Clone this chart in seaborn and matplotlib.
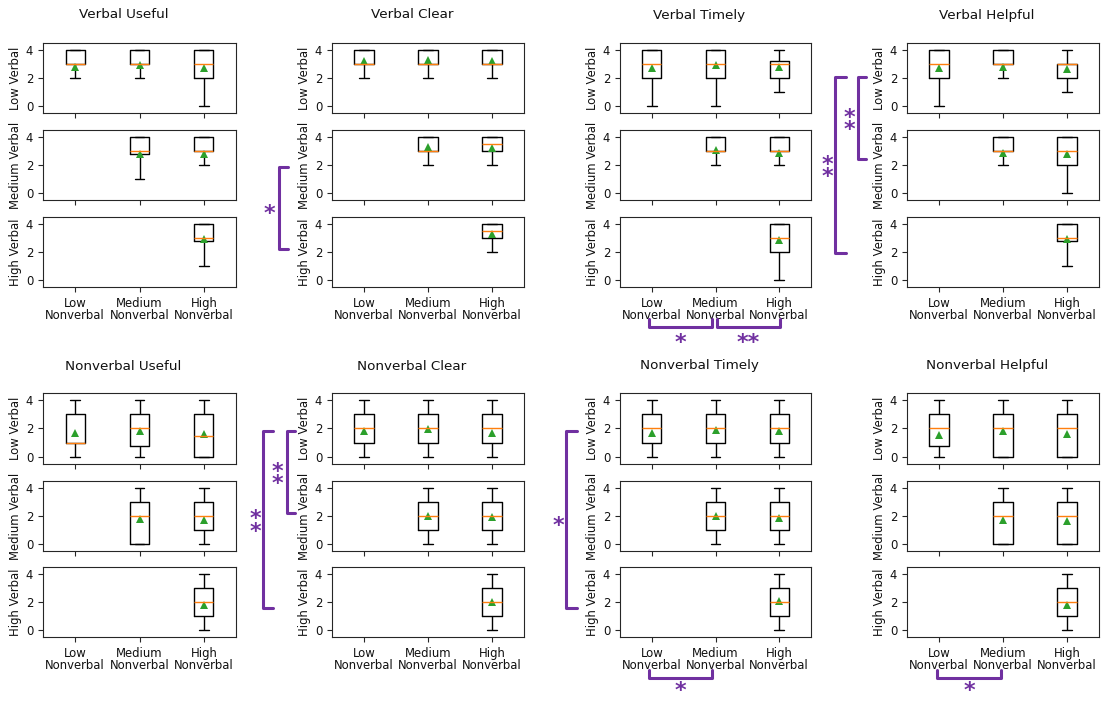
import matplotlib
matplotlib.use("Agg")
import matplotlib.pyplot as plt
from matplotlib.lines import Line2D
import pandas as pd
import seaborn as sns

# ---------------------------------------------------------------------------
# DATA  (five-number summaries: min, q1, median, q3, max; None = no group)
# ---------------------------------------------------------------------------
nonverbal_levels = ["Low\nNonverbal", "Medium\nNonverbal", "High\nNonverbal"]
verbal_levels = ["Low Verbal", "Medium Verbal", "High Verbal"]

verbal_useful_box = [
    [(2, 3, 3, 4, 4), (2, 3, 3, 4, 4), (0, 2, 3, 4, 4)],
    [None, (1, 2.75, 3, 4, 4), (2, 3, 3, 4, 4)],
    [None, None, (1, 2.75, 3, 4, 4)],
]
verbal_useful_mean = [[2.8, 2.9, 2.7], [None, 2.82, 2.82], [None, None, 2.9]]

verbal_clear_box = [
    [(2, 3, 3, 4, 4), (2, 3, 3, 4, 4), (2, 3, 3, 4, 4)],
    [None, (2, 3, 3, 4, 4), (2, 3, 3.5, 4, 4)],
    [None, None, (2, 3, 3.5, 4, 4)],
]
verbal_clear_mean = [[3.25, 3.3, 3.25], [None, 3.3, 3.2], [None, None, 3.3]]

verbal_timely_box = [
    [(0, 2, 3, 4, 4), (0, 2, 3, 4, 4), (1, 2, 3, 3.25, 4)],
    [None, (2, 3, 3, 4, 4), (2, 3, 3, 4, 4)],
    [None, None, (0, 2, 3, 4, 4)],
]
verbal_timely_mean = [[2.7, 2.93, 2.8], [None, 3.04, 2.87], [None, None, 2.89]]

verbal_helpful_box = [
    [(0, 2, 3, 4, 4), (2, 3, 3, 4, 4), (1, 2, 3, 3, 4)],
    [None, (2, 3, 3, 4, 4), (0, 2, 3, 4, 4)],
    [None, None, (1, 2.75, 3, 4, 4)],
]
verbal_helpful_mean = [[2.71, 2.81, 2.64], [None, 2.87, 2.8], [None, None, 2.9]]

nonverbal_useful_box = [
    [(0, 1, 1, 3, 4), (0, 0.75, 2, 3, 4), (0, 0, 1.5, 3, 4)],
    [None, (0, 0, 2, 3, 4), (0, 1, 2, 3, 4)],
    [None, None, (0, 1, 2, 3, 4)],
]
nonverbal_useful_mean = [[1.69, 1.81, 1.62], [None, 1.78, 1.71], [None, None, 1.81]]

nonverbal_clear_box = [
    [(0, 1, 2, 3, 4), (0, 1, 2, 3, 4), (0, 1, 2, 3, 4)],
    [None, (0, 1, 2, 3, 4), (0, 1, 2, 3, 4)],
    [None, None, (0, 1, 2, 3, 4)],
]
nonverbal_clear_mean = [[1.81, 1.95, 1.69], [None, 2.01, 1.9], [None, None, 1.98]]

nonverbal_timely_box = [
    [(0, 1, 2, 3, 4), (0, 1, 2, 3, 4), (0, 1, 2, 3, 4)],
    [None, (0, 1, 2, 3, 4), (0, 1, 2, 3, 4)],
    [None, None, (0, 1, 2, 3, 4)],
]
nonverbal_timely_mean = [[1.71, 1.9, 1.81], [None, 2.01, 1.83], [None, None, 2.05]]

nonverbal_helpful_box = [
    [(0, 0.75, 2, 3, 4), (0, 0, 2, 3, 4), (0, 0, 2, 3, 4)],
    [None, (0, 0, 2, 3, 4), (0, 0, 2, 3, 4)],
    [None, None, (0, 1, 2, 3, 4)],
]
nonverbal_helpful_mean = [[1.55, 1.79, 1.6], [None, 1.71, 1.64], [None, None, 1.81]]

panels = [
    ("Verbal Useful", verbal_useful_box, verbal_useful_mean),
    ("Verbal Clear", verbal_clear_box, verbal_clear_mean),
    ("Verbal Timely", verbal_timely_box, verbal_timely_mean),
    ("Verbal Helpful", verbal_helpful_box, verbal_helpful_mean),
    ("Nonverbal Useful", nonverbal_useful_box, nonverbal_useful_mean),
    ("Nonverbal Clear", nonverbal_clear_box, nonverbal_clear_mean),
    ("Nonverbal Timely", nonverbal_timely_box, nonverbal_timely_mean),
    ("Nonverbal Helpful", nonverbal_helpful_box, nonverbal_helpful_mean),
]

# ---------------------------------------------------------------------------
# LAYOUT (pixel positions in the 1104x702 canvas)
# ---------------------------------------------------------------------------
W, H = 1104, 702
col_x = [(43, 236), (332, 524), (620, 811), (907, 1099)]
row_y_top = [(43, 113), (130, 200), (217, 287)]
row_y_bottom = [(393, 464), (481, 551), (567, 637)]
title_y = [15, 366]
PURPLE = "#7030a0"

sns.set_style("ticks")
plt.rcParams["font.family"] = ["DejaVu Sans"]
plt.rcParams["font.size"] = 8.4
plt.rcParams["axes.labelsize"] = 8.4
plt.rcParams["xtick.labelsize"] = 8.4
plt.rcParams["ytick.labelsize"] = 8.4
plt.rcParams["text.color"] = "#111111"
plt.rcParams["axes.labelcolor"] = "#111111"
plt.rcParams["xtick.labelcolor"] = "#111111"
plt.rcParams["ytick.labelcolor"] = "#111111"

fig = plt.figure(figsize=(W / 100, H / 100), dpi=100)


def fx(x):
    return x / W


def fy(y):
    return 1 - y / H


def px_rect(x0, y0, x1, y1):
    return [fx(x0), fy(y1), (x1 - x0) / W, (y1 - y0) / H]


for p, (title, boxes, means) in enumerate(panels):
    gx = col_x[p % 4]
    rows = row_y_top if p < 4 else row_y_bottom
    for r in range(3):
        ax = fig.add_axes(px_rect(gx[0], rows[r][0], gx[1], rows[r][1]))
        bdf = pd.DataFrame(
            [(nonverbal_levels[c], v) for c, s in enumerate(boxes[r]) if s for v in s],
            columns=["nonverbal", "score"],
        )
        sns.boxplot(
            data=bdf, x="nonverbal", y="score", order=nonverbal_levels,
            whis=(0, 100), width=0.3, fill=False, color="black", linewidth=1,
            medianprops={"color": "#ff7f0e"}, showfliers=False, ax=ax,
        )
        mdf = pd.DataFrame(
            [(nonverbal_levels[c], m) for c, m in enumerate(means[r]) if m is not None],
            columns=["nonverbal", "mean"],
        )
        sns.pointplot(
            data=mdf, x="nonverbal", y="mean", order=nonverbal_levels,
            linestyle="none", marker="^", markersize=6.3, markeredgewidth=0,
            color="#2ca02c", errorbar=None, ax=ax,
        )
        ax.set_xlim(-0.5, 2.5)
        ax.set_ylim(-0.5, 4.5)
        ax.set_yticks([0, 2, 4])
        ax.set_xlabel("")
        ax.set_ylabel(verbal_levels[r], labelpad=2.5)
        if r < 2:
            ax.tick_params(labelbottom=False)
        else:
            for lab in ax.get_xticklabels():
                lab.set_linespacing(0.95)
    fig.text(fx((gx[0] + gx[1]) / 2 - 16), fy(title_y[p // 4]), title,
             ha="center", va="center", fontsize=9.7)


# ---------------------------------------------------------------------------
# SIGNIFICANCE BRACKETS
# ---------------------------------------------------------------------------
def draw_line(xs, ys):
    fig.add_artist(Line2D([fx(v) for v in xs], [fy(v) for v in ys], color=PURPLE,
                          lw=2.2, solid_joinstyle="round", solid_capstyle="round"))


def stars(x, y, n, vertical):
    # glyph centre sits ~0.57 em above the baseline
    label = "\n".join(["*"] * n) if vertical else "*" * n
    fig.text(fx(x), fy(y + 12), label, color=PURPLE, fontsize=16,
             fontweight="bold", ha="center", va="baseline",
             linespacing=0.52, multialignment="center")


def vbracket(x, y0, y1, arm, n, sx):
    draw_line([x + arm, x, x, x + arm], [y0, y0, y1, y1])
    stars(sx, (y0 + y1) / 2 + (6 if n == 2 else 0), n, True)


def hbracket(x0, x1, y, arm, n, gap=10):
    draw_line([x0, x0, x1, x1], [y - arm, y, y, y - arm])
    stars((x0 + x1) / 2, y + gap, n, False)


vbracket(279, 167, 249, 9, 1, 269)
vbracket(835, 77, 253, 11, 2, 827)
vbracket(858, 77, 159, 8, 2, 849)
vbracket(263, 431, 608, 10, 2, 255)
vbracket(287, 431, 513, 8, 2, 277)
vbracket(566, 431, 608, 11, 1, 558)

hbracket(649, 712, 327, 8, 1)
hbracket(717, 780, 327, 8, 2)
hbracket(649, 712, 678, 8, 1, gap=7)
hbracket(937, 1001, 678, 8, 1, gap=7)

fig.savefig("out.png", dpi=100)
